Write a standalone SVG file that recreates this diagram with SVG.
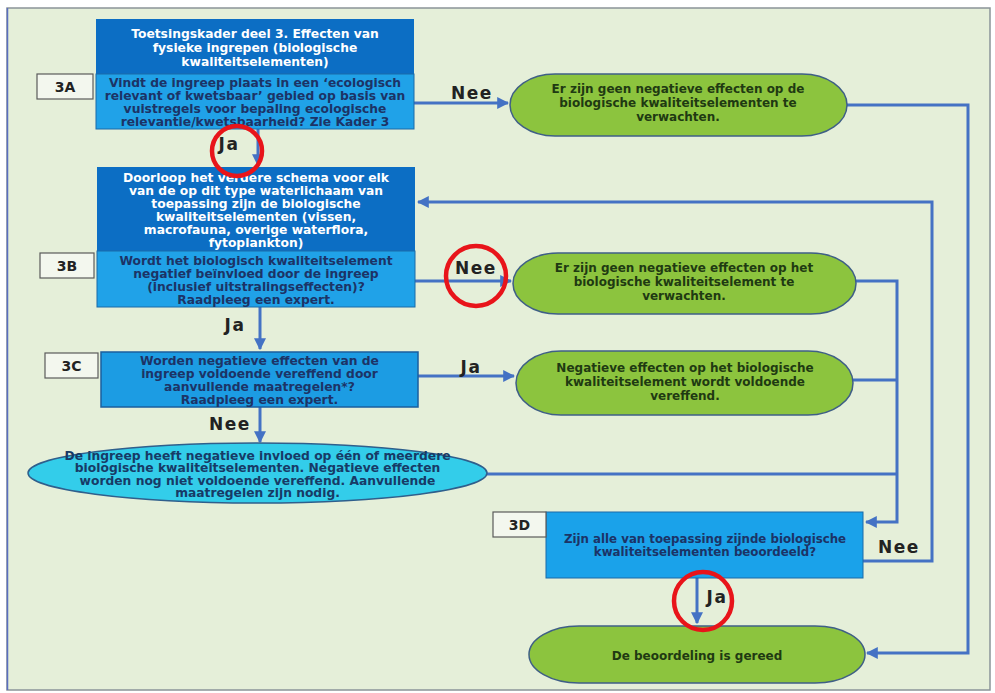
<svg xmlns="http://www.w3.org/2000/svg" width="995" height="693" viewBox="0 0 995 693">
<defs>
<marker id="ah" viewBox="0 0 10 10" refX="9" refY="5" markerWidth="4" markerHeight="4" orient="auto-start-reverse" markerUnits="strokeWidth">
<path d="M0,0 L10,5 L0,10 z" fill="#4472c4"/>
</marker>
</defs>
<style>
.t{font-family:"DejaVu Sans","Liberation Sans",sans-serif;font-weight:bold;text-anchor:middle}
.w{fill:#ffffff;font-size:12.3px}
.q{fill:#1c3366;font-size:12.3px}
.g{fill:#1f3a12;font-size:12px}
.c{fill:#173a66;font-size:12.3px}
.lab{fill:#222222;font-size:17px;font-family:"DejaVu Sans",sans-serif;font-weight:bold;text-anchor:middle;letter-spacing:1.5px}
.id{fill:#222222;font-size:14px;font-family:"DejaVu Sans",sans-serif;font-weight:bold;text-anchor:middle}
.idbox{fill:#f3f7ee;stroke:#5a5a5a;stroke-width:1.2}
.conn path{fill:none;stroke:#4472c4;stroke-width:3}
.green{fill:#8cc43e;stroke:#3f5f86;stroke-width:1.5}
.ring{fill:none;stroke:#e8141a;stroke-width:4.5}
</style>
<rect x="0" y="0" width="995" height="693" fill="#ffffff"/>
<rect x="7" y="8" width="983" height="682" fill="#e5efd9" stroke="#8a9498" stroke-width="1.5"/>
<line x1="7.5" y1="8" x2="7.5" y2="690" stroke="#5a6ec0" stroke-width="1.5"/>

<g class="conn">
<path d="M258,129 L258,165" marker-end="url(#ah)"/>
<path d="M414,103 L508,103" marker-end="url(#ah)"/>
<path d="M847,105 L968,105 L968,653 L867,653" marker-end="url(#ah)"/>
<path d="M863,561 L932,561 L932,202 L418,202" marker-end="url(#ah)"/>
<path d="M415,281 L511,281" marker-end="url(#ah)"/>
<path d="M260,307 L260,349" marker-end="url(#ah)"/>
<path d="M418,376 L514,376" marker-end="url(#ah)"/>
<path d="M260,407 L260,442" marker-end="url(#ah)"/>
<path d="M856,281 L897,281 L897,522 L866,522" marker-end="url(#ah)"/>
<path d="M853,380 L897,380"/>
<path d="M487,474 L897,474"/>
<path d="M697,578 L697,623" marker-end="url(#ah)"/>
</g>

<g id="node-header">
<rect x="96" y="19" width="318" height="55" fill="#0c6ec4"/>
<text class="t w" x="255" y="38">Toetsingskader deel 3. Effecten van</text>
<text class="t w" x="255" y="52">fysieke ingrepen (biologische</text>
<text class="t w" x="255" y="66">kwaliteitselementen)</text>
</g>

<g id="node-3A">
<rect x="96" y="74" width="318" height="55" fill="#20a2e8" stroke="#1a6aa8" stroke-width="1"/>
<text class="t q" x="255" y="86.5">Vindt de ingreep plaats in een ‘ecologisch</text>
<text class="t q" x="255" y="99.5">relevant of kwetsbaar’ gebied op basis van</text>
<text class="t q" x="255" y="112.5">vuistregels voor bepaling ecologische</text>
<text class="t q" x="255" y="125.5">relevantie/kwetsbaarheid? Zie Kader 3</text>
<rect class="idbox" x="37" y="74" width="56" height="25"/>
<text class="id" x="65" y="92">3A</text>
</g>

<g id="node-green1">
<rect class="green" x="510" y="74" width="337" height="62" rx="45" ry="31"/>
<text class="t g" x="678" y="93">Er zijn geen negatieve effecten op de</text>
<text class="t g" x="678" y="107">biologische kwaliteitselementen  te</text>
<text class="t g" x="678" y="121">verwachten.</text>
</g>

<g id="node-doorloop">
<rect x="97" y="167" width="318" height="84" fill="#0c6ec4"/>
<text class="t w" x="256" y="181.5">Doorloop het verdere schema voor elk</text>
<text class="t w" x="256" y="194.5">van de op dit type waterlichaam van</text>
<text class="t w" x="256" y="207.5">toepassing zijn de biologische</text>
<text class="t w" x="256" y="220.5">kwaliteitselementen (vissen,</text>
<text class="t w" x="256" y="233.5">macrofauna,  overige waterflora,</text>
<text class="t w" x="256" y="246.5">fytoplankton)</text>
</g>

<g id="node-3B">
<rect x="97" y="251" width="318" height="56" fill="#20a2e8" stroke="#1a6aa8" stroke-width="1"/>
<text class="t q" x="256" y="265">Wordt het biologisch kwaliteitselement</text>
<text class="t q" x="256" y="278">negatief beïnvloed door de ingreep</text>
<text class="t q" x="256" y="291">(inclusief uitstralingseffecten)?</text>
<text class="t q" x="256" y="304">Raadpleeg een expert.</text>
<rect class="idbox" x="40" y="253" width="54" height="25"/>
<text class="id" x="67" y="271">3B</text>
</g>

<g id="node-green2">
<rect class="green" x="513" y="253" width="343" height="61" rx="45" ry="30.5"/>
<text class="t g" x="684" y="272">Er zijn geen negatieve effecten op het</text>
<text class="t g" x="684" y="286">biologische kwaliteitselement  te</text>
<text class="t g" x="684" y="300">verwachten.</text>
</g>

<g id="node-3C">
<rect x="101" y="352" width="317" height="55" fill="#1c9ce3" stroke="#1a5f9e" stroke-width="1.5"/>
<text class="t q" x="259.5" y="364.5">Worden negatieve effecten van de</text>
<text class="t q" x="259.5" y="377.5">ingreep voldoende vereffend door</text>
<text class="t q" x="259.5" y="390.5">aanvullende maatregelen*?</text>
<text class="t q" x="259.5" y="403.5">Raadpleeg een expert.</text>
<rect class="idbox" x="45" y="353" width="53" height="25"/>
<text class="id" x="71.5" y="371">3C</text>
</g>

<g id="node-green3">
<rect class="green" x="516" y="351" width="337" height="64" rx="45" ry="32"/>
<text class="t g" x="685" y="372">Negatieve effecten op het biologische</text>
<text class="t g" x="685" y="386">kwaliteitselement  wordt voldoende</text>
<text class="t g" x="685" y="400">vereffend.</text>
</g>

<g id="node-cyan">
<ellipse cx="257.5" cy="473" rx="229.5" ry="30" fill="#33cdea" stroke="#2f5f8c" stroke-width="1.5"/>
<text class="t c" x="257.5" y="459.5">De ingreep heeft negatieve invloed op één of meerdere</text>
<text class="t c" x="257.5" y="472">biologische kwaliteitselementen.  Negatieve effecten</text>
<text class="t c" x="257.5" y="484.5">worden nog niet voldoende vereffend. Aanvullende</text>
<text class="t c" x="257.5" y="497">maatregelen  zijn nodig.</text>
</g>

<g id="node-3D">
<rect x="546" y="512" width="317" height="66" fill="#1aa2ea" stroke="#1a6aa8" stroke-width="1"/>
<text class="t q" x="705" y="543" style="font-size:11.8px">Zijn alle van toepassing zijnde biologische</text>
<text class="t q" x="705" y="556" style="font-size:11.8px">kwaliteitselementen  beoordeeld?</text>
<rect class="idbox" x="493" y="512" width="53" height="25"/>
<text class="id" x="519.5" y="530">3D</text>
</g>

<g id="node-done">
<rect class="green" x="529" y="626" width="336" height="57" rx="50" ry="28.5"/>
<text class="t g" x="697" y="660">De beoordeling is gereed</text>
</g>

<g id="labels">
<text class="lab" x="472" y="99">Nee</text>
<text class="lab" x="229" y="150">Ja</text>
<text class="lab" x="476" y="274">Nee</text>
<text class="lab" x="235" y="331">Ja</text>
<text class="lab" x="471" y="373">Ja</text>
<text class="lab" x="230" y="430">Nee</text>
<text class="lab" x="899" y="553">Nee</text>
<text class="lab" x="717" y="603">Ja</text>
</g>

<g id="highlights">
<circle class="ring" cx="237" cy="151" r="25"/>
<circle class="ring" cx="476" cy="276" r="30"/>
<circle class="ring" cx="703" cy="601" r="29"/>
</g>
</svg>
